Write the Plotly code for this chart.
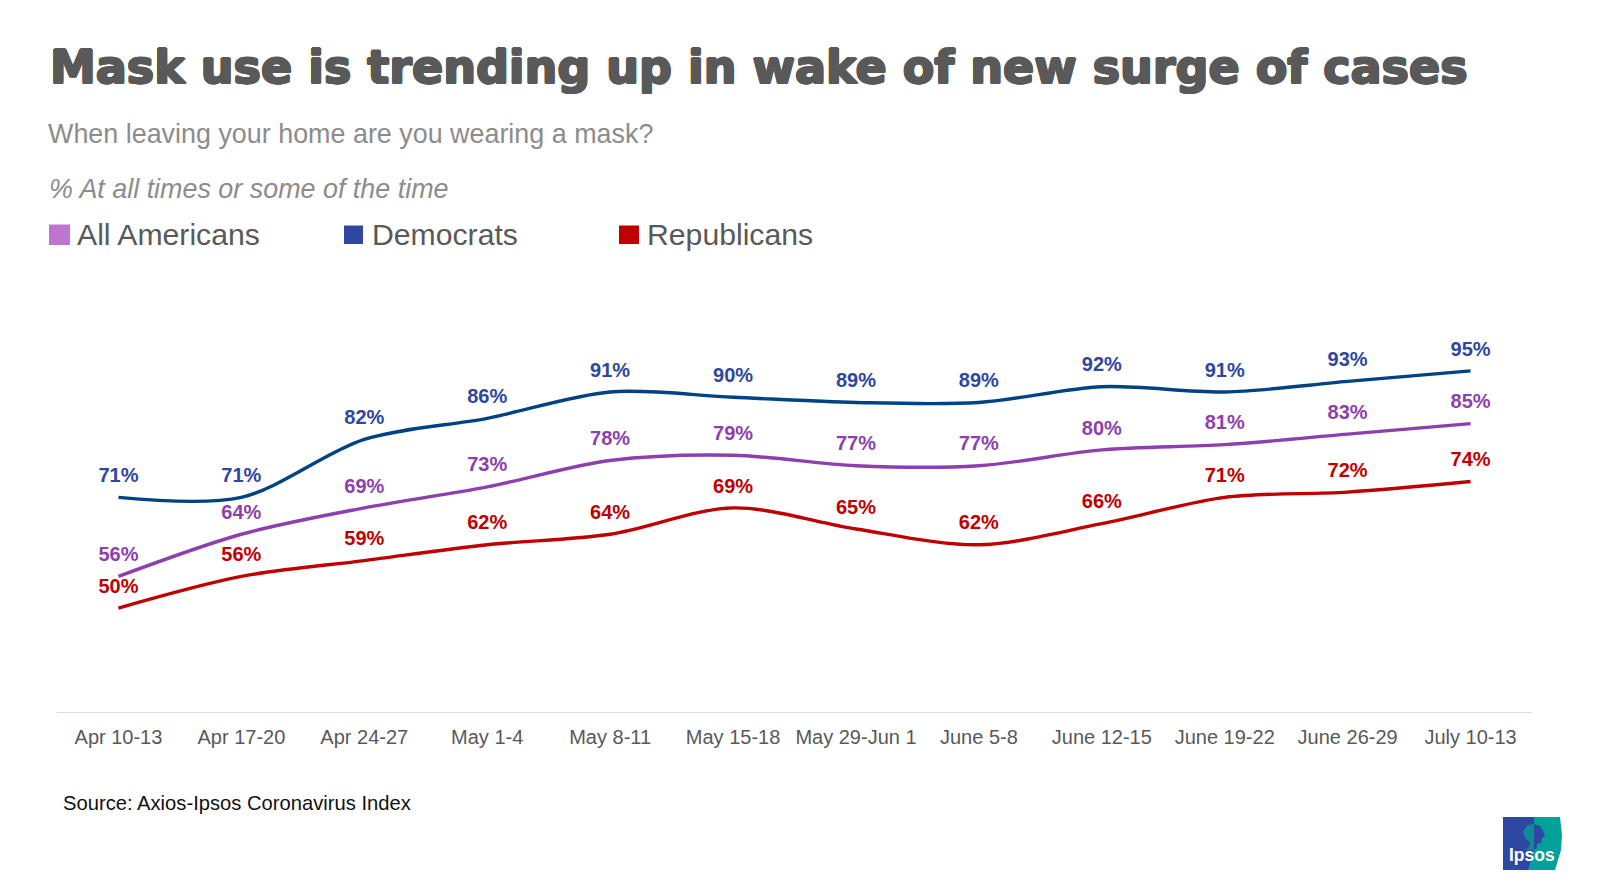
import plotly.graph_objects as go

# The page adds 8px of body margin, so the figure is drawn 8px smaller and coordinates are page pixels.
W, H = 1584, 876
OFF = 8
L, R, T, B = 57, 1532, 344, 712

categories = ["Apr 10-13", "Apr 17-20", "Apr 24-27", "May 1-4", "May 8-11", "May 15-18",
              "May 29-Jun 1", "June 5-8", "June 12-15", "June 19-22", "June 26-29", "July 10-13"]
all_americans = [56, 64, 69, 73, 78, 79, 77, 77, 80, 81, 83, 85]
democrats = [71, 71, 82, 86, 91, 90, 89, 89, 92, 91, 93, 95]
republicans = [50, 56, 59, 62, 64, 69, 65, 62, 66, 71, 72, 74]

TITLE = "Mask use is trending up in wake of new surge of cases"
SUBTITLE = "When leaving your home are you wearing a mask?"
SUBTITLE2 = "% At all times or some of the time"
SOURCE = "Source: Axios-Ipsos Coronavirus Index"
SANS = "Liberation Sans"

def px(x): return (x - L) / (R - L)
def py(y): return 1 - (y - T) / (B - T)

fig = go.Figure()
series = [("All Americans", all_americans, "#8E3FAE", "#8E3FAE"),
          ("Democrats", democrats, "#004284", "#2E47A0"),
          ("Republicans", republicans, "#C00000", "#C00000")]
for name, vals, line_c, text_c in series:
    fig.add_trace(go.Scatter(
        x=categories, y=vals, name=name, mode="lines+markers+text",
        line=dict(color=line_c, width=3.4, shape="spline", smoothing=0.9),
        marker=dict(size=15, opacity=0),
        text=[f"{v}%" for v in vals], textposition="top center",
        textfont=dict(family=SANS, size=20, color=text_c, weight="bold"),
        cliponaxis=False, showlegend=False, hoverinfo="x+y"))

def note(x, y, text, size, color, **kw):
    fig.add_annotation(xref="paper", yref="paper", x=px(x), y=py(y), text=text, showarrow=False,
                       xanchor=kw.pop("xanchor", "left"), yanchor="middle",
                       borderpad=0, font=dict(family=kw.pop("family", SANS), size=size, color=color, **kw))

heavy = ("1px 0 0 #595959, -1px 0 0 #595959, 0 0.6px 0 #595959, 0 -0.6px 0 #595959, "
         "0.7px 0.5px 0 #595959, -0.7px -0.5px 0 #595959, 0.7px -0.5px 0 #595959, -0.7px 0.5px 0 #595959")
note(48.5, 67, TITLE, 46, "#595959", family="DejaVu Sans", weight="bold", shadow=heavy)
note(47, 134, SUBTITLE, 26.9, "#8C8C8C")
note(47.5, 189, SUBTITLE2, 26.9, "#8C8C8C", style="italic")
note(75.5, 234, "All Americans", 30.2, "#595959")
note(370.5, 234, "Democrats", 30.2, "#595959")
note(645.5, 234, "Republicans", 30.2, "#595959")
note(62, 803, SOURCE, 20.2, "#111111")

for x0, x1, y0, y1, c in [(49, 70, 224.5, 245, "#BE75D0"), (344, 363, 225.5, 244, "#2E47A0"), (619, 639, 225.5, 244, "#C00000")]:
    fig.add_shape(type="rect", xref="paper", yref="paper", x0=px(x0), x1=px(x1),
                  y0=py(y1), y1=py(y0), fillcolor=c, line_width=0)

# Ipsos logo
def path(pts):
    return "M " + " L ".join(f"{px(x):.5f},{py(y):.5f}" for x, y in pts) + " Z"
logo = [
    ("#00A19A", [(1530, 817), (1560, 817), (1562, 835), (1561, 850), (1555, 870), (1528, 870)]),
    ("#2E47A0", [(1503, 817), (1534, 817), (1534, 850), (1528, 870), (1503, 870)]),
    ("#0F8A96", [(1534, 824), (1528, 825), (1523, 831), (1525, 838), (1530, 842), (1529, 847), (1525, 850), (1534, 850)]),
    ("#2E47A0", [(1534, 824), (1540, 826), (1543, 831), (1545, 836), (1542, 838), (1541, 843), (1537, 844), (1537, 848), (1534, 850)]),
]
for color, pts in logo:
    fig.add_shape(type="path", xref="paper", yref="paper", line_width=0, fillcolor=color, path=path(pts))
note(1532, 855, "Ipsos", 17.5, "#FFFFFF", xanchor="center", weight="bold")

fig.update_layout(
    width=W, height=H, autosize=False, paper_bgcolor="white", plot_bgcolor="white",
    margin=dict(l=L - OFF, r=W + OFF - R, t=T - OFF, b=H + OFF - B), showlegend=False,
    xaxis=dict(type="category", range=[-0.5, 11.5], showgrid=False, zeroline=False, showline=True,
               linecolor="#DDDDDD", linewidth=1, ticks="outside", ticklen=7, tickcolor="rgba(0,0,0,0)",
               tickfont=dict(family=SANS, size=20, color="#595959")),
    yaxis=dict(range=[30.27, 100.1], visible=False, showgrid=False, zeroline=False),
)
fig.write_html("out.html")
